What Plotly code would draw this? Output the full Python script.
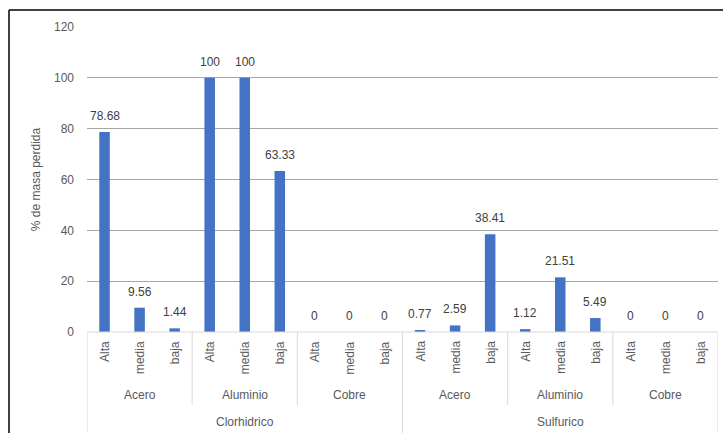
import plotly.graph_objects as go

acids = ["Clorhidrico", "Sulfurico"]
materials = ["Acero", "Aluminio", "Cobre"]
levels = ["Alta", "media", "baja"]
values_clorhidrico = [78.68, 9.56, 1.44, 100, 100, 63.33, 0, 0, 0]
values_sulfurico = [0.77, 2.59, 38.41, 1.12, 21.51, 5.49, 0, 0, 0]
y_ticks = [0, 20, 40, 60, 80, 100, 120]

values = values_clorhidrico + values_sulfurico
n = len(values)
xs = list(range(n))

def fmt(v):
    return f"{v:g}"

W, H = 723, 433
ml, mr, mt, mb = 87, 5, 27, 101
pw, ph = W - ml - mr, H - mt - mb

def py(pix):
    return (H - mb - pix) / ph

def px(pix):
    return (pix - ml) / pw

font = "Liberation Sans"
txt_col = "#595959"

fig = go.Figure()
fig.add_trace(go.Bar(
    x=xs, y=values, width=0.3,
    marker=dict(color="#4472C4", line=dict(width=0)),
    hoverinfo="skip",
))

ann = []
shapes = []
# data labels
for i, v in enumerate(values):
    ann.append(dict(x=i, y=v, xref="x", yref="y", text=fmt(v), showarrow=False,
                    yanchor="bottom", xanchor="center", yshift=7,
                    font=dict(family=font, size=12, color="#404040")))
nl, nm = len(levels), len(materials)
for i in range(n):
    ann.append(dict(x=i, y=py(339), xref="x", yref="paper", text=levels[i % nl],
                    textangle=-90, showarrow=False, yanchor="top", xanchor="center",
                    font=dict(family=font, size=12, color=txt_col)))
for g in range(len(acids) * nm):
    cx = g * nl + (nl - 1) / 2
    ann.append(dict(x=cx, y=py(395), xref="x", yref="paper", text=materials[g % nm],
                    showarrow=False, yanchor="middle", xanchor="center",
                    font=dict(family=font, size=12, color=txt_col)))
for a in range(len(acids)):
    cx = a * nl * nm + (nl * nm - 1) / 2
    ann.append(dict(x=cx, y=py(422), xref="x", yref="paper", text=acids[a],
                    showarrow=False, yanchor="middle", xanchor="center",
                    font=dict(family=font, size=12, color=txt_col)))

sep_col = "#d9d9d9"
for g in range(len(acids) * nm + 1):
    bx = g * nl - 0.5
    outer = (g % nm == 0)
    shapes.append(dict(type="line", xref="x", yref="paper", x0=bx, x1=bx,
                       y0=0, y1=py(433 if outer else 405),
                       line=dict(color=sep_col, width=1)))
shapes.append(dict(type="line", xref="paper", yref="paper", x0=0, x1=1, y0=0, y1=0,
                   line=dict(color=sep_col, width=1)))
# outer chart border (top & left)
shapes.append(dict(type="line", xref="paper", yref="paper", x0=px(9), x1=px(723),
                   y0=py(10), y1=py(10), line=dict(color="black", width=1.5)))
shapes.append(dict(type="line", xref="paper", yref="paper", x0=px(9), x1=px(9),
                   y0=py(10), y1=py(433), line=dict(color="black", width=1.5)))

fig.update_layout(
    width=W, height=H, margin=dict(l=ml, r=mr, t=mt, b=mb),
    paper_bgcolor="white", plot_bgcolor="white", showlegend=False,
    annotations=ann, shapes=shapes,
    xaxis=dict(range=[-0.5, n - 0.5], showticklabels=False, showgrid=False,
               zeroline=False, showline=False, fixedrange=True),
    yaxis=dict(range=[0, 120], tickvals=y_ticks, showgrid=True, gridcolor="#a6a6a6",
               gridwidth=1, zeroline=False, showline=False,
               tickfont=dict(family=font, size=12, color=txt_col),
               ticklabelstandoff=12,
               title=dict(text="% de masa perdida", standoff=10,
                          font=dict(family=font, size=12, color=txt_col))),
)

fig.write_html("out.html")
